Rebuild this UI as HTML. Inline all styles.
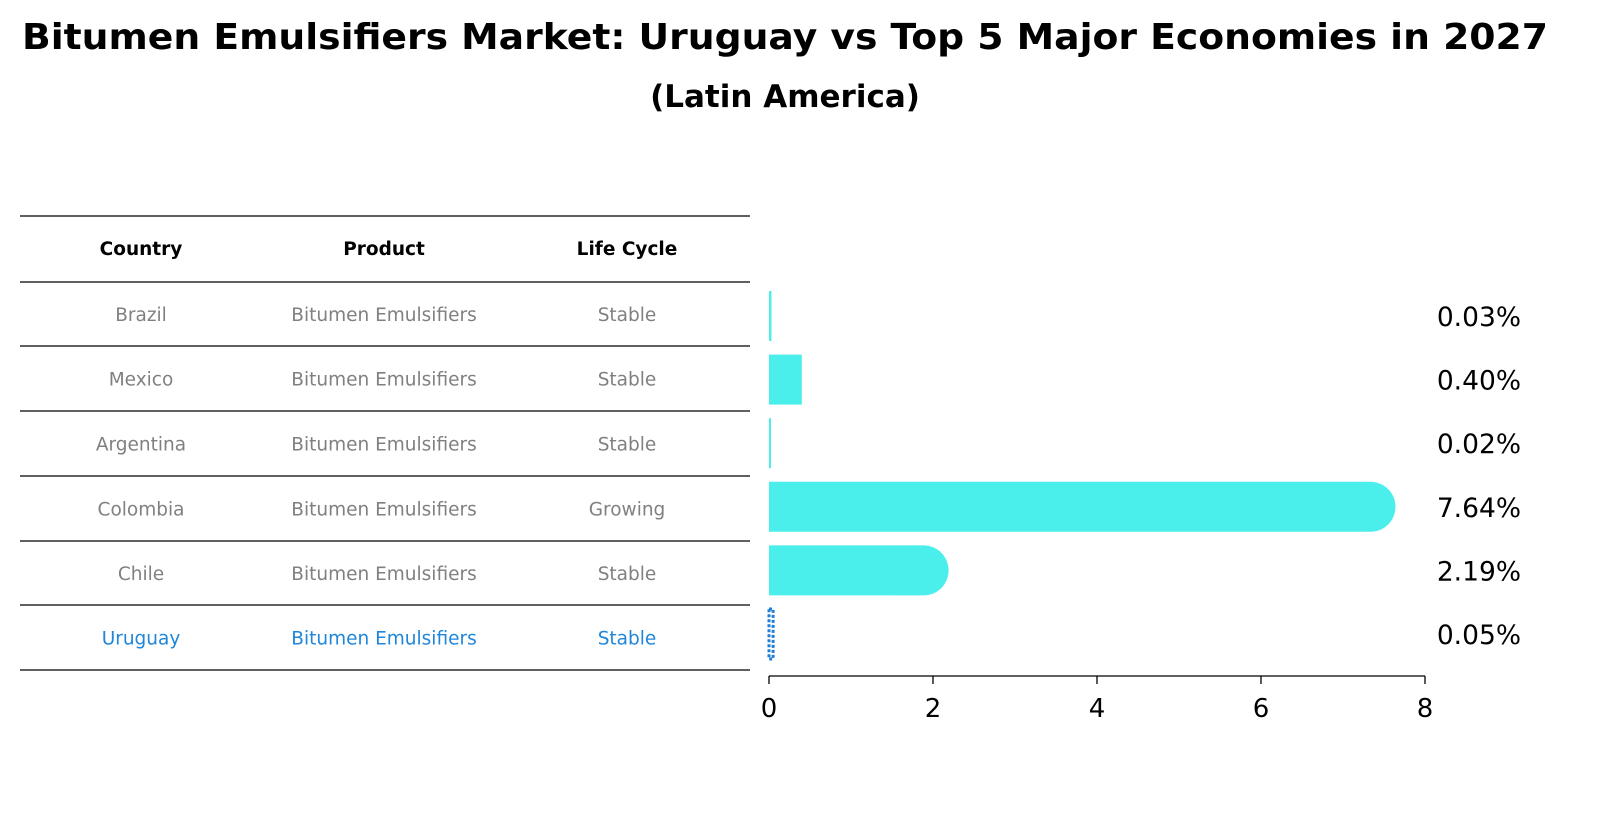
<!DOCTYPE html>
<html><head><meta charset="utf-8"><style>
body{margin:0;background:#fff;}
svg text{font-family:"DejaVu Sans","Liberation Sans",sans-serif;}
</style></head><body>
<svg id="chart" width="1614" height="823" viewBox="0 0 1614 823" xmlns="http://www.w3.org/2000/svg">
<text x="785" y="49" text-anchor="middle" font-size="36" font-weight="bold" textLength="1526" lengthAdjust="spacingAndGlyphs">Bitumen Emulsifiers Market: Uruguay vs Top 5 Major Economies in 2027</text>
<text x="785" y="107" text-anchor="middle" font-size="31" font-weight="bold">(Latin America)</text>
<g id="table"></g>
<g id="bars"></g>
</svg>
<script>
const countries=["Brazil","Mexico","Argentina","Colombia","Chile","Uruguay"];
const products=["Bitumen Emulsifiers","Bitumen Emulsifiers","Bitumen Emulsifiers","Bitumen Emulsifiers","Bitumen Emulsifiers","Bitumen Emulsifiers"];
const lifecycles=["Stable","Stable","Stable","Growing","Stable","Stable"];
const values=[0.03,0.40,0.02,7.64,2.19,0.05];
const labels=["0.03%","0.40%","0.02%","7.64%","2.19%","0.05%"];
const ticks=[0,2,4,6,8];
const NS="http://www.w3.org/2000/svg";
const x0=769,x1=1425,xmax=8;
const xs=v=>x0+(x1-x0)*v/xmax;
const rowY=i=>316+i*63.6;
function mk(t,a,p){const e=document.createElementNS(NS,t);for(const k in a)e.setAttribute(k,a[k]);p.appendChild(e);return e;}
const tb=document.getElementById('table');
const lineYs=[216,282,346,411,476,541,605,670];
lineYs.forEach((y,i)=>{const l=mk('line',{x1:20,x2:750,y1:y,y2:y,stroke:'#000','stroke-width':1.2},tb);

});
const colX=[141,384,627];
["Country","Product","Life Cycle"].forEach((h,i)=>{const t=mk('text',{x:colX[i],y:255,'text-anchor':'middle','font-size':18.5,'font-weight':'bold'},tb);t.textContent=h;

});
countries.forEach((c,i)=>{const y=(lineYs[i+1]+lineYs[i+2])/2+7;const col=c==="Uruguay"?"#1f86d9":"#808080";
[c,products[i],lifecycles[i]].forEach((s,j)=>{const t=mk('text',{x:colX[j],y:y,'text-anchor':'middle','font-size':18.5,fill:col},tb);t.textContent=s;

});});
const bg=document.getElementById('bars');
const h=50;
values.forEach((v,i)=>{const cy=rowY(i);const w=xs(v)-x0;const uru=countries[i]==="Uruguay";
let el;
if(uru){el=mk('rect',{x:x0,y:cy-h/2,width:Math.max(w,3),height:h,fill:'none',stroke:'#1f7fd6','stroke-width':3,'stroke-dasharray':'3 2'},bg);}
else if(w>h){el=mk('path',{d:`M${x0},${cy-h/2} H${x0+w-h/2} A${h/2},${h/2} 0 0 1 ${x0+w-h/2},${cy+h/2} H${x0} Z`,fill:'#4aeeea'},bg);}
else{el=mk('rect',{x:x0,y:cy-h/2,width:Math.max(w,2),height:h,fill:'#4aeeea'},bg);}


const t=mk('text',{x:1521,y:cy+10,'text-anchor':'end','font-size':26.5},bg);t.textContent=labels[i];

});
const ax=mk('line',{x1:x0,x2:x1,y1:676,y2:676,stroke:'#000','stroke-width':1.3},bg);


ticks.forEach(v=>{const tk=mk('line',{x1:xs(v),x2:xs(v),y1:676,y2:684,stroke:'#000','stroke-width':1.3},bg);


const t=mk('text',{x:xs(v),y:717,'text-anchor':'middle','font-size':26},bg);t.textContent=v;

});
</script>
</body></html>
